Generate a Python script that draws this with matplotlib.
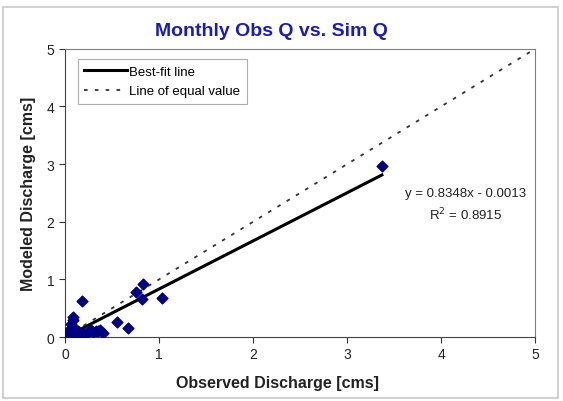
import numpy as np
import matplotlib
matplotlib.use("Agg")
import matplotlib.pyplot as plt
from matplotlib.patches import Rectangle

plt.rcParams['font.family'] = ['Liberation Sans', 'DejaVu Sans']

# observed vs modeled monthly discharge [cms]
obs = [0.02, 0.03, 0.04, 0.05, 0.05, 0.06, 0.07, 0.07, 0.08, 0.09, 0.09, 0.10,
       0.10, 0.12, 0.14, 0.15, 0.16, 0.18, 0.18, 0.20, 0.22, 0.25, 0.28, 0.30,
       0.33, 0.35, 0.37, 0.40, 0.55, 0.67, 0.76, 0.82, 0.83, 1.03, 3.37]
sim = [0.02, 0.07, 0.00, 0.14, 0.03, 0.22, 0.10, 0.05, 0.30, 0.34, 0.18, 0.12,
       0.02, 0.06, 0.10, 0.03, 0.00, 0.62, 0.02, 0.07, 0.05, 0.10, 0.12, 0.08,
       0.11, 0.10, 0.12, 0.07, 0.27, 0.16, 0.79, 0.66, 0.92, 0.68, 2.96]

slope = 0.8348
intercept = -0.0013
r2 = 0.8915

fig = plt.figure(figsize=(5.63, 4.02), dpi=100)
fig.patch.set_facecolor('white')
# outer chart frame
fig.add_artist(Rectangle((0.006, 0.008), 0.985, 0.972, transform=fig.transFigure,
                         fill=False, edgecolor='#c8c8c8', linewidth=1.2))

ax = fig.add_axes([0.1155, 0.159, 0.835, 0.717])

ax.scatter(obs, sim, marker='D', s=30, color='#000080', zorder=3)

xf = np.array([min(obs), max(obs)])
ax.plot(xf, slope * xf + intercept, color='black', linewidth=2.2,
        label='Best-fit line', zorder=2)
ax.plot([0, 5], [0, 5], color='#333333', linestyle=(0, (2, 4)), linewidth=1.3,
        label='Line of equal value', zorder=2)

ax.set_xlim(0, 5)
ax.set_ylim(0, 5)
ax.set_xticks(range(6))
ax.set_yticks(range(6))
ax.tick_params(direction='out', length=4, labelsize=10, colors='#333333',
               labelcolor='#222222')

for side in ['top', 'right']:
    ax.spines[side].set_color('#808080')
for side in ['left', 'bottom']:
    ax.spines[side].set_color('#444444')

# Excel centres the title over the whole chart area
fig.text(0.482, 0.922, 'Monthly Obs Q vs. Sim Q', color='#1c1cb0', fontsize=14,
         fontweight='bold', ha='center', va='center')
ax.set_xlabel('Observed Discharge [cms]', fontsize=11.5, fontweight='bold',
              color='#222222')
ax.xaxis.set_label_coords(0.451, -0.133)
ax.set_ylabel('Modeled Discharge [cms]', fontsize=11.5, fontweight='bold',
              color='#222222', labelpad=8)

leg = ax.legend(loc='upper left', bbox_to_anchor=(0.013, 0.988), fontsize=9.5,
                frameon=True, fancybox=False, handlelength=3.2,
                handletextpad=0.2, borderpad=0.5, labelspacing=0.55)
leg.get_frame().set_edgecolor('#999999')
leg.get_frame().set_linewidth(0.8)

ax.text(4.26, 2.30, 'y = 0.8348x - 0.0013\nR$^2$ = 0.8915', ha='center',
        va='center', fontsize=9.5, color='#222222', linespacing=1.5)

fig.savefig('out.png', dpi=100)
